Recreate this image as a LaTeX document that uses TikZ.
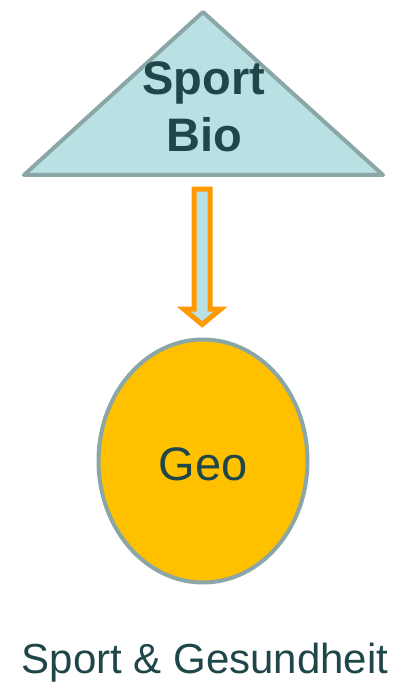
\documentclass[tikz,border=0pt]{standalone}
\usepackage{fontspec}
\setmainfont{Liberation Sans}
\usetikzlibrary{shapes.geometric}
\definecolor{edgegray}{HTML}{8BA6A6}
\definecolor{trifill}{HTML}{B9E0E2}
\definecolor{txt}{HTML}{1F4648}
\definecolor{geofill}{HTML}{FFC000}
\definecolor{arroworange}{HTML}{FF9900}
\tikzset{
  lbl/.style={text=txt, inner sep=0pt, anchor=base},
}
\begin{document}
\begin{tikzpicture}[x=1pt,y=-1pt]
\useasboundingbox (0,0) rectangle (393,684);
% triangle
\draw[edgegray, line width=4pt, line join=round, fill=trifill]
  (203,12) coordinate (apex) -- (24,175) -- (383,175) -- cycle;
\coordinate (tribase) at (203,175);
\node[lbl, font=\bfseries\fontsize{47}{56}\selectfont] (sport) at (204,95) {Sport};
\node[lbl, font=\bfseries\fontsize{47}{56}\selectfont] (bio) at (204.5,152) {Bio};
% ellipse
\node[ellipse, draw=edgegray, line width=4pt, fill=geofill, inner sep=0pt,
      minimum width=209pt, minimum height=243pt] (geo) at (203,461) {};
\node[lbl, font=\fontsize{47}{56}\selectfont] (geotxt) at (203,480) {Geo};
% block arrow
\draw[arroworange, line width=5pt, fill=trifill, line join=miter]
  (194.2,189.2) -- (210.2,189.2) -- (210.2,309.2) -- (220.5,309.2) -- (202.2,324.5)
  -- (183.8,309.2) -- (194.2,309.2) -- cycle;
% caption
\node[lbl, font=\fontsize{42}{50}\selectfont] (caption) at (205,673) {Sport \& Gesundheit};
\end{tikzpicture}
\end{document}
